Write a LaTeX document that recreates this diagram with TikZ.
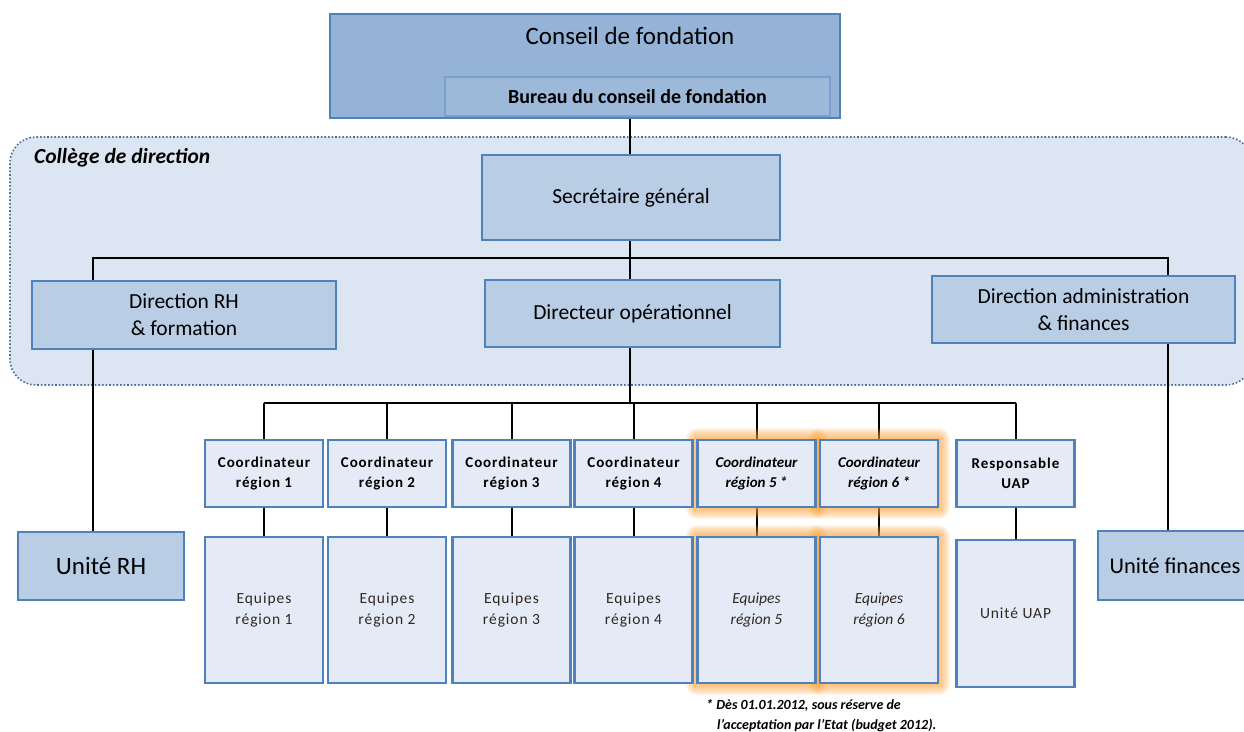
\documentclass[tikz,border=0pt]{standalone}
\usepackage{fontspec}
\setmainfont{Carlito}
\newfontfamily\spaced[LetterSpace=6]{Carlito}
\definecolor{bord}{HTML}{4F81BD}
\definecolor{dkfill}{HTML}{95B3D7}
\definecolor{mdfill}{HTML}{B9CDE5}
\definecolor{ltfill}{HTML}{E4EBF6}
\definecolor{colfill}{HTML}{DCE6F2}
\definecolor{colbord}{HTML}{4A6E9B}
\definecolor{eqtext}{HTML}{2E2822}
\definecolor{glowc}{HTML}{F9A23A}
\begin{document}
\begin{tikzpicture}[x=1pt,y=-1pt,
  dkbox/.style={draw=bord, fill=dkfill, line width=2.5pt, inner sep=0pt},
  mdbox/.style={draw=bord, fill=mdfill, line width=2.5pt, inner sep=0pt, align=center, font=\fontsize{21.5}{27}\selectfont},
  ltbox/.style={draw=bord, fill=ltfill, line width=2.2pt, inner sep=0pt, align=center},
  coord/.style={ltbox, minimum width=118pt, minimum height=67pt, font=\spaced\fontsize{15}{20}\selectfont\bfseries},
  equipe/.style={ltbox, minimum width=118pt, minimum height=146pt, font=\spaced\fontsize{15.5}{21}\selectfont, text=eqtext},
  link/.style={line width=2pt, black},
  txt/.style={inner sep=0pt}]
\useasboundingbox (0,0) rectangle (1244,731);

% College background
\node[draw=colbord, fill=colfill, dotted, line width=1.6pt, rounded corners=26pt,
  minimum width=1242pt, minimum height=248pt, inner sep=0pt] (col) at (631,261) {};
\node[txt, anchor=west, font=\fontsize{21.5}{24}\selectfont\bfseries\itshape] (colt) at (34,158) {Collège de direction};

% coordinates for buses
\coordinate (bus1) at (630,258);
\coordinate (busL) at (93,258);
\coordinate (busR) at (1168,258);
\coordinate (bus2) at (630,403);

% nodes positions (draw lines first)
\path
  (585,66) node[minimum width=510pt, minimum height=104pt] (cf) {}
  (637.5,96.5) node[minimum width=385pt, minimum height=39pt] (bcf) {}
  (631,197.5) node[minimum width=298pt, minimum height=85pt] (sg) {}
  (184,315) node[minimum width=304pt, minimum height=68pt] (rh) {}
  (632.5,313.5) node[minimum width=295pt, minimum height=67pt] (do) {}
  (1083.5,309.5) node[minimum width=303pt, minimum height=67pt] (af) {}
  (101,566) node[minimum width=166pt, minimum height=68pt] (urh) {}
  (1175,565.5) node[minimum width=154pt, minimum height=69pt] (uf) {};

\draw[link] (cf.south -| bus1) -- (sg.north -| bus1);
\draw[link] (sg.south -| bus1) -- (do.north -| bus1);
\draw[link] (busL |- urh.north) -- (busL) -- (busR) -- (busR |- uf.north);
\draw[link] (do.south -| bus2) -- (bus2);

% coordinators and teams
\foreach \n/\x in {c1/264, c2/387, c3/511.5, c4/633.5, c5/756.5, c6/879, ru/1015.5} {
  \path (\x,473.5) node[minimum width=118pt, minimum height=67pt] (\n) {};
}
\foreach \n/\x in {e1/264, e2/387, e3/511.5, e4/633.5, e5/756.5, e6/879} {
  \path (\x,610) node[minimum width=118pt, minimum height=146pt] (\n) {};
}
\path (1015.5,613.5) node[minimum width=118pt, minimum height=147pt] (uu) {};

\draw[link] (bus2 -| c1.north) -- (bus2 -| ru.north);
\foreach \n in {c1,c2,c3,c4,c5,c6,ru} { \draw[link] (bus2 -| \n.north) -- (\n.north); }
\foreach \a/\b in {c1/e1,c2/e2,c3/e3,c4/e4,c5/e5,c6/e6,ru/uu} { \draw[link] (\a.south) -- (\b.north); }

% orange glow
\foreach \n in {c5,c6,e5,e6} {
  \foreach \k in {1,...,12} {
    \fill[glowc, opacity=0.085, rounded corners=\k pt]
      ([shift={(-\k,\k)}]\n.south west) rectangle ([shift={(\k,-\k)}]\n.north east);
  }
}

% visible boxes
\node[dkbox, minimum width=510pt, minimum height=104pt] at (cf) {};
\node[txt, font=\fontsize{25}{28}\selectfont] (cft) at (630,36) {Conseil de fondation};
\node[draw=bord!75, fill=dkfill!92!white, line width=1.2pt, minimum width=385pt, minimum height=39pt,
  inner sep=0pt, font=\fontsize{20}{22}\selectfont\bfseries] at (bcf) {Bureau du conseil de fondation};
\draw[bord, line width=2.5pt] (cf.south west) -- (cf.south east);

\node[mdbox, minimum width=298pt, minimum height=85pt] at (sg) {Secrétaire général};
\node[mdbox, minimum width=304pt, minimum height=68pt] at (rh) {Direction RH\\\& formation};
\node[mdbox, minimum width=295pt, minimum height=67pt] at (do) {Directeur opérationnel};
\node[mdbox, minimum width=303pt, minimum height=67pt] at (af) {Direction administration\\\& finances};
\node[mdbox, minimum width=166pt, minimum height=68pt, font=\fontsize{25}{28}\selectfont] at (urh) {Unité RH};
\node[mdbox, minimum width=154pt, minimum height=69pt, font=\fontsize{22.5}{26}\selectfont] at (uf) {Unité finances};

\node[coord] at (c1) {Coordinateur\\région 1};
\node[coord] at (c2) {Coordinateur\\région 2};
\node[coord] at (c3) {Coordinateur\\région 3};
\node[coord] at (c4) {Coordinateur\\région 4};
\node[coord, font=\fontsize{15}{20}\selectfont\bfseries\itshape] at (c5) {Coordinateur\\région 5 *};
\node[coord, font=\fontsize{15}{20}\selectfont\bfseries\itshape] at (c6) {Coordinateur\\région 6 *};
\node[coord] at (ru) {Responsable\\UAP};

\node[equipe] at (e1) {Equipes\\région 1};
\node[equipe] at (e2) {Equipes\\région 2};
\node[equipe] at (e3) {Equipes\\région 3};
\node[equipe] at (e4) {Equipes\\région 4};
\node[equipe, font=\fontsize{15.5}{21}\selectfont\itshape] at (e5) {Equipes\\région 5};
\node[equipe, font=\fontsize{15.5}{21}\selectfont\itshape] at (e6) {Equipes\\région 6};
\node[equipe, minimum height=147pt] at (uu) {Unité UAP};

% footnote
\node[txt, anchor=north west, align=left, font=\fontsize{14}{20}\selectfont\bfseries\itshape] (fn) at (706,699)
  {* Dès 01.01.2012, sous réserve de\\\hspace*{11pt}l’acceptation par l’Etat (budget 2012).};
\end{tikzpicture}
\end{document}
